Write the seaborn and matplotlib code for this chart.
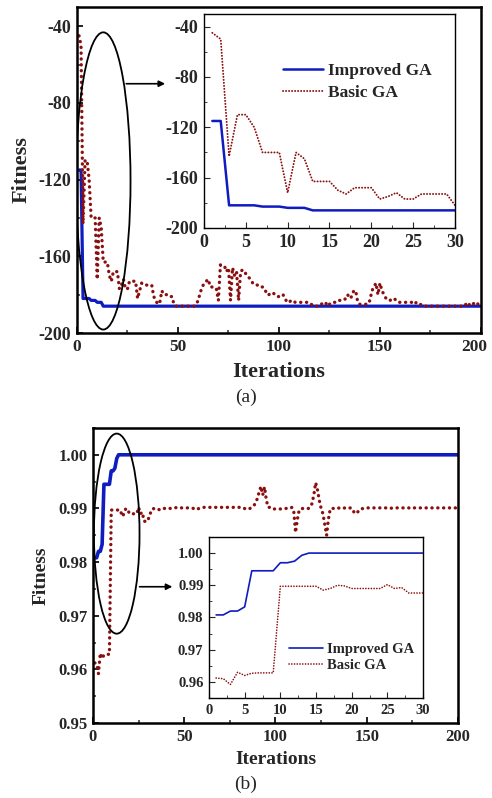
import numpy as np
import pandas as pd
import matplotlib
matplotlib.use("Agg")
import matplotlib.pyplot as plt
import matplotlib.transforms as mtransforms
import seaborn as sns
from matplotlib.patches import Ellipse
from matplotlib.ticker import AutoMinorLocator, FormatStrFormatter

# ---------------- data ----------------
iterations = list(range(1, 201))

improved_a = [-115, -115, -182, -182, -182, -182, -183, -183, -183, -184, -184, -184] + [-186] * 188

basic_a = [
    -45, -50, -143, -110, -110, -120, -140, -140, -140, -172,
    -140, -145, -163, -163, -163, -170, -173, -168, -168, -168,
    -177, -175, -172, -177, -177, -173, -173, -173, -173, -182,
    -178, -174, -174, -175, -175, -175, -175, -181, -183, -185,
    -184, -178, -180, -180, -180, -181, -181, -185, -186, -186,
    -186, -186, -186, -186, -186, -186, -186, -186, -185, -183,
    -179, -176, -174, -173, -172, -176, -176, -176, -177, -183,
    -164.5, -165, -165, -168, -166, -183, -166, -170, -168, -183,
    -168, -167, -168, -170, -171, -172, -174, -175, -175, -175,
    -176, -176, -177, -180, -180, -179, -179, -180, -181, -181,
    -180, -180, -182, -184, -184, -183, -183, -184, -184, -184,
    -184, -184, -184, -184, -184, -185, -186, -186, -186, -185,
    -185, -184, -184, -186, -185, -184, -184, -184, -184, -183,
    -183, -183, -182, -180, -182, -181, -178, -178, -184, -185,
    -185, -185, -185, -185, -183, -178, -176, -174, -180, -174,
    -178, -180, -182, -183, -183, -182, -182, -183, -184, -184,
    -184, -184, -184, -184, -184, -184, -185, -184, -184, -185,
    -186, -186, -186, -186, -186, -186, -186, -186, -186, -186,
    -186, -186, -186, -186, -186, -186, -186, -186, -186, -186,
    -186, -186, -184, -185, -186, -185, -184, -184, -186, -186,
]

improved_b = [0.9808, 0.9808, 0.9820, 0.9820, 0.9833, 0.9945, 0.9945, 0.9945, 0.9945, 0.9970,
              0.9970, 0.9975, 0.9993] + [1.0] * 187

basic_b = [
    0.9612, 0.9610, 0.9592, 0.9630, 0.9620, 0.9627, 0.9628, 0.9628, 0.9628, 0.9897,
    0.9897, 0.9897, 0.9897, 0.9897, 0.9897, 0.9885, 0.9890, 0.9900, 0.9898, 0.9890,
    0.9890, 0.9890, 0.9890, 0.9890, 0.9902, 0.9890, 0.9893, 0.9876, 0.9876, 0.9876,
    0.9888, 0.9895, 0.9900, 0.9898, 0.9897, 0.9898, 0.9897, 0.9899, 0.9900, 0.9900,
    0.9901, 0.9900, 0.9900, 0.9901, 0.9901, 0.9902, 0.9901, 0.9901, 0.9901, 0.9901,
    0.9901, 0.9901, 0.9901, 0.9901, 0.9900, 0.9900, 0.9898, 0.9900, 0.9901, 0.9902,
    0.9902, 0.9902, 0.9902, 0.9902, 0.9902, 0.9902, 0.9902, 0.9902, 0.9902, 0.9902,
    0.9902, 0.9902, 0.9902, 0.9902, 0.9902, 0.9902, 0.9902, 0.9902, 0.9902, 0.9902,
    0.9902, 0.9902, 0.9900, 0.9898, 0.9899, 0.9900, 0.9902, 0.9905, 0.9909, 0.9918,
    0.9930, 0.9941, 0.9925, 0.9940, 0.9915, 0.9902, 0.9902, 0.9902, 0.9899, 0.9899,
    0.9899, 0.9899, 0.9899, 0.9899, 0.9900, 0.9900, 0.9900, 0.9900, 0.9902, 0.9895,
    0.9855, 0.9880, 0.9897, 0.9899, 0.9900, 0.9900, 0.9900, 0.9900, 0.9902, 0.9909,
    0.9925, 0.9948, 0.9935, 0.9915, 0.9900, 0.9890, 0.9870, 0.9850, 0.9880, 0.9899,
    0.9900, 0.9900, 0.9901, 0.9900, 0.9901, 0.9901, 0.9900, 0.9901, 0.9900, 0.9900,
    0.9901, 0.9900, 0.9893, 0.9890, 0.9893, 0.9898, 0.9899, 0.9900, 0.9901, 0.9901,
    0.9901, 0.9901, 0.9901, 0.9901, 0.9901, 0.9901, 0.9901, 0.9901, 0.9901, 0.9901,
    0.9901, 0.9901, 0.9900, 0.9901, 0.9901, 0.9901, 0.9901, 0.9901, 0.9901, 0.9901,
    0.9901, 0.9901, 0.9901, 0.9900, 0.9901, 0.9901, 0.9901, 0.9901, 0.9901, 0.9901,
    0.9901, 0.9901, 0.9901, 0.9901, 0.9901, 0.9901, 0.9901, 0.9901, 0.9901, 0.9901,
    0.9901, 0.9901, 0.9901, 0.9901, 0.9901, 0.9901, 0.9901, 0.9901, 0.9901, 0.9901,
]

labels = ["Improved GA", "Basic GA"]
main_xticks = [0, 50, 100, 150, 200]
inset_xticks = [0, 5, 10, 15, 20, 25, 30]
yticks_a = [-200, -160, -120, -80, -40]
yticks_b = [0.95, 0.96, 0.97, 0.98, 0.99, 1.00]
yticks_b_in = [0.96, 0.97, 0.98, 0.99, 1.00]

df_a = pd.DataFrame({"Iterations": iterations, "Improved": improved_a, "Basic": basic_a})
df_b = pd.DataFrame({"Iterations": iterations, "Improved": improved_b, "Basic": basic_b})
N_IN = 30

# ---------------- style ----------------
sns.set_style("ticks")
plt.rcParams["font.family"] = ["Liberation Serif", "DejaVu Serif"]
plt.rcParams["font.weight"] = "bold"
plt.rcParams["axes.unicode_minus"] = False

BLUE = "#0f1cbf"
RED = "#8c0f0f"

fig = plt.figure(figsize=(4.92, 7.98), dpi=100)


def style_axes(ax, lw, fs, xt, yt, xlim, ylim, fmt=None, xfs=None):
    ax.set_xlim(*xlim)
    ax.set_ylim(*ylim)
    ax.set_xticks(xt)
    ax.set_yticks(yt)
    ax.xaxis.set_minor_locator(AutoMinorLocator(2))
    ax.yaxis.set_minor_locator(AutoMinorLocator(2))
    if fmt:
        ax.yaxis.set_major_formatter(FormatStrFormatter(fmt))
    for s in ax.spines.values():
        s.set_linewidth(lw)
        s.set_color("black")
        s.set_visible(True)
    ax.tick_params(which="major", direction="in", length=4, width=lw * 0.8,
                   labelsize=fs, pad=4, top=False, right=False)
    ax.tick_params(which="minor", direction="in", length=2.5, width=lw * 0.6,
                   top=False, right=False)
    if xfs:
        ax.tick_params(axis="x", labelsize=xfs)
    for lab in ax.get_xticklabels() + ax.get_yticklabels():
        lab.set_fontweight("bold")


def draw(ax, df, n, lw_imp, lw_bas, dash):
    d = df.iloc[:n] if n else df
    sns.lineplot(data=d, x="Iterations", y="Improved", ax=ax, color=BLUE,
                 linewidth=lw_imp, label=labels[0], legend=False)
    sns.lineplot(data=d, x="Iterations", y="Basic", ax=ax, color=RED,
                 linewidth=lw_bas, linestyle=(0, dash), dash_capstyle="round",
                 label=labels[1], legend=False)
    ax.set_xlabel("")
    ax.set_ylabel("")


# ---------------- (a) main ----------------
ax1 = fig.add_axes([0.1565, 0.5827, 0.8211, 0.4085])
draw(ax1, df_a, None, 2.3, 2.4, (0.05, 1.7))
style_axes(ax1, 1.8, 13, main_xticks, yticks_a, (0, 200), (-200, -30), xfs=12.5)
ax1.set_xlabel("Iterations", fontsize=16, fontweight="bold", labelpad=5)
ax1.set_ylabel("Fitness", fontsize=16, fontweight="bold", labelpad=5)
ax1.add_patch(Ellipse((13, -120.7), 27, 155, fill=False, edgecolor="black", lw=1.3, zorder=5))
ax1.annotate("", xy=(45, -70), xytext=(23, -70),
             arrowprops=dict(arrowstyle="-|>", color="black", lw=1.2, mutation_scale=9))
# keep the last x tick label inside the canvas
last = ax1.get_xticklabels()[-1]
last.set_transform(last.get_transform() + mtransforms.ScaledTranslation(-5 / 72, 0, fig.dpi_scale_trans))

# ---------------- (a) inset ----------------
ax1i = fig.add_axes([0.4146, 0.7143, 0.5102, 0.2682])
draw(ax1i, df_a, N_IN, 1.8, 1.4, (0.05, 1.5))
style_axes(ax1i, 1.0, 13, inset_xticks, yticks_a, (0, 30), (-200, -30))
ax1i.legend(loc="center left", bbox_to_anchor=(0.315, 0.682), frameon=False,
            borderpad=0, borderaxespad=0, handlelength=2.3, handletextpad=0.3,
            labelspacing=0.3, prop={"size": 12.5, "weight": "bold"})

# ---------------- (b) main ----------------
ax2 = fig.add_axes([0.189, 0.094, 0.7419, 0.3697])
draw(ax2, df_b, None, 2.6, 2.4, (0.05, 1.7))
style_axes(ax2, 1.8, 12, main_xticks, yticks_b, (0, 200), (0.95, 1.005), "%.2f")
ax2.set_xlabel("Iterations", fontsize=14, fontweight="bold", labelpad=5)
ax2.set_ylabel("Fitness", fontsize=14, fontweight="bold", labelpad=6)
ax2.add_patch(Ellipse((13, 0.9853), 25, 0.0373, fill=False, edgecolor="black", lw=1.3, zorder=5))
ax2.annotate("", xy=(45, 0.9754), xytext=(24, 0.9754),
             arrowprops=dict(arrowstyle="-|>", color="black", lw=1.2, mutation_scale=9))

# ---------------- (b) inset ----------------
ax2i = fig.add_axes([0.4248, 0.1253, 0.435, 0.2018])
ax2i.set_facecolor("white")
draw(ax2i, df_b, N_IN, 1.2, 1.2, (0.05, 1.6))
style_axes(ax2i, 1.0, 10.5, inset_xticks, yticks_b_in, (0, 30), (0.955, 1.005), "%.2f")
ax2i.legend(loc="center left", bbox_to_anchor=(0.374, 0.252), frameon=False,
            borderpad=0, borderaxespad=0, handlelength=2.3, handletextpad=0.3,
            labelspacing=0.2, prop={"size": 10.5, "weight": "bold"})

fig.text(0.5, 1 - 397 / 798, "(a)", ha="center", va="center", fontsize=14, fontweight="normal")
fig.text(0.5, 1 - 784 / 798, "(b)", ha="center", va="center", fontsize=14, fontweight="normal")

fig.savefig("out.png", dpi=100)
